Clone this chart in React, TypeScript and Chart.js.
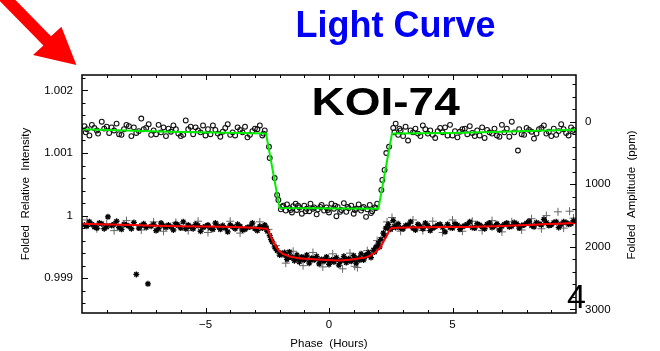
import { useEffect, useRef } from "react";
import { Chart, registerables } from "chart.js";

Chart.register(...registerables);

const FONT = '"Liberation Sans", Arial, Helvetica, sans-serif';

// Axis ticks (minor + labelled)
const phaseTicks = [-9, -8, -7, -6, -5, -4, -3, -2, -1, 0, 1, 2, 3, 4, 5, 6, 7, 8, 9];
const phaseLabels = [-5, 0, 5];
const intensityTicks = [
  0.9986, 0.9988, 0.999, 0.9992, 0.9994, 0.9996, 0.9998, 1, 1.0002, 1.0004,
  1.0006, 1.0008, 1.001, 1.0012, 1.0014, 1.0016, 1.0018, 1.002, 1.0022,
];
const intensityLabels = [0.999, 1, 1.001, 1.002];
const ppmTicks = [
  -600, -400, -200, 0, 200, 400, 600, 800, 1000, 1200, 1400, 1600, 1800, 2000,
  2200, 2400, 2600, 2800, 3000,
];
const ppmLabels = [0, 1000, 2000, 3000];

// Axis ranges; the right axis is the same intensity expressed as ppm below 1.0015
const PHASE_MIN = -10;
const PHASE_MAX = 10;
const INTENSITY_MIN = 0.998444;
const INTENSITY_MAX = 1.002246;
const PPM_ZERO = 1.0015;

// Occultation model (green)
const occultationModelPhase = [-10, -6.5, -2.55, -2.0, 2.0, 2.55, 5, 10];
const occultationModelFlux = [1.00138, 1.00134, 1.00131, 1.00012, 1.00011, 1.00131, 1.00132, 1.00137];

// Transit model (red)
const transitModelPhase = [-10, -5.2, -2.53, -2.27, -2.0, -1.59, -0.78, 0.43, 1.11, 1.65, 2.05, 2.32, 2.53, 4.9, 10];
const transitModelFlux = [
  0.99987, 0.999826, 0.999789, 0.999586, 0.999427, 0.999347, 0.999306, 0.999283,
  0.99931, 0.999358, 0.999481, 0.999666, 0.9998, 0.999816, 0.99988,
];

// Folded observations, upper light curve (open circles): [phase, intensity]
const occultationObs: [number, number][] = [
  [-9.9, 1.00143], [-9.8, 1.00138], [-9.7, 1.00128], [-9.5, 1.0014], [-9.4, 1.00136], [-9.2, 1.0015],
  [-9.1, 1.00139], [-8.9, 1.00132], [-8.8, 1.00141], [-8.6, 1.00147], [-8.5, 1.0013], [-8.3, 1.00138],
  [-8.2, 1.00145], [-8.0, 1.00127], [-7.9, 1.00141], [-7.7, 1.00135], [-7.6, 1.00155], [-7.4, 1.0014],
  [-7.2, 1.00129], [-7.1, 1.00136], [-6.9, 1.00145], [-6.8, 1.00133], [-6.6, 1.00127], [-6.5, 1.00139],
  [-6.3, 1.00144], [-6.1, 1.00131], [-6.0, 1.00127], [-5.8, 1.00152], [-5.7, 1.00138], [-5.5, 1.0013],
  [-5.4, 1.00141], [-5.2, 1.00133], [-5.0, 1.00128], [-4.9, 1.00138], [-4.7, 1.00144], [-4.5, 1.00131],
  [-4.4, 1.00126], [-4.2, 1.0014], [-4.1, 1.00146], [-3.9, 1.00133], [-3.8, 1.00128], [-3.6, 1.00137],
  [-3.4, 1.00142], [-3.3, 1.00125], [-3.1, 1.00135], [-3.0, 1.00139], [-2.8, 1.00144], [-2.7, 1.00128],
  [-2.6, 1.00136],
  [-9.85, 1.00133], [-9.6, 1.00145], [-9.35, 1.00131], [-9.0, 1.00142], [-8.7, 1.00136], [-8.4, 1.00129],
  [-8.1, 1.00143], [-7.8, 1.00132], [-7.5, 1.00138], [-7.3, 1.00146], [-7.0, 1.0013], [-6.7, 1.00141],
  [-6.4, 1.00134], [-6.2, 1.00138], [-5.9, 1.00129], [-5.6, 1.00142], [-5.3, 1.00136], [-5.1, 1.00144],
  [-4.8, 1.0013], [-4.6, 1.00137], [-4.3, 1.00134], [-4.0, 1.00129], [-3.7, 1.00141], [-3.5, 1.00133],
  [-3.2, 1.00129], [-2.9, 1.00138], [-2.65, 1.00131],
  [-2.43, 1.0011], [-2.4, 1.00092], [-2.2, 1.0006], [-2.1, 1.00033], [-2.05, 1.00025],
  [-1.95, 1.0001], [-1.85, 1.00016], [-1.75, 1.00008], [-1.7, 1.00018], [-1.6, 1.00012], [-1.5, 1.00005],
  [-1.45, 1.00015], [-1.35, 1.00019], [-1.3, 1.00009], [-1.2, 1.00013], [-1.1, 1.00003], [-1.0, 1.00016],
  [-0.9, 1.00011], [-0.8, 1.00007], [-0.75, 1.00019], [-0.6, 1.00013], [-0.5, 1.00002], [-0.45, 1.0001],
  [-0.3, 1.00017], [-0.2, 1.00008], [-0.1, 1.00013], [0.0, 1.00005], [0.1, 1.00019], [0.2, 1.00011],
  [0.3, 0.99999], [0.35, 1.00014], [0.5, 1.00009], [0.6, 1.0002], [0.7, 1.00006], [0.8, 1.00012],
  [0.9, 1.00016], [1.0, 1.00003], [1.1, 1.00011], [1.2, 1.00018], [1.3, 1.00008], [1.4, 1.00014],
  [1.5, 0.99998], [1.55, 1.0001], [1.65, 1.00017], [1.75, 1.00007], [1.85, 1.00013], [1.95, 1.00019],
  [-1.9, 1.00014], [-1.55, 1.00009], [-1.25, 1.00016], [-0.95, 1.00007], [-0.65, 1.00011], [-0.35, 1.00014],
  [-0.05, 1.00009], [0.25, 1.00016], [0.45, 1.00006], [0.75, 1.00014], [1.05, 1.00009], [1.35, 1.00012],
  [1.7, 1.00004], [1.9, 1.00012],
  [2.12, 1.00041], [2.16, 1.00057], [2.25, 1.00073], [2.32, 1.001], [2.43, 1.0011],
  [2.6, 1.0014], [2.7, 1.00147], [2.8, 1.00129], [2.9, 1.00136], [3.1, 1.00142], [3.2, 1.0012],
  [3.4, 1.00133], [3.5, 1.00139], [3.7, 1.00127], [3.8, 1.00144], [4.0, 1.00131], [4.1, 1.00136],
  [4.3, 1.00124], [4.5, 1.0014], [4.6, 1.00133], [4.8, 1.00128], [4.9, 1.00145], [5.1, 1.00135],
  [5.2, 1.00125], [5.4, 1.00138], [5.6, 1.0013], [5.7, 1.00143], [5.9, 1.00127], [6.0, 1.00136],
  [6.2, 1.00141], [6.3, 1.00124], [6.5, 1.00133], [6.7, 1.00139], [6.8, 1.00128], [7.0, 1.00145],
  [7.1, 1.00133], [7.3, 1.00126], [7.4, 1.0015], [7.65, 1.00104], [7.7, 1.00138], [7.9, 1.00129],
  [8.0, 1.0014], [8.2, 1.00134], [8.3, 1.00123], [8.5, 1.00138], [8.7, 1.00144], [8.8, 1.00131],
  [9.0, 1.00127], [9.1, 1.00139], [9.3, 1.00135], [9.4, 1.00146], [9.6, 1.00132], [9.7, 1.00128],
  [9.8, 1.00141], [9.9, 1.00137],
  [2.65, 1.00133], [2.85, 1.00139], [3.0, 1.00127], [3.3, 1.00136], [3.6, 1.00131], [3.9, 1.00138],
  [4.2, 1.00129], [4.4, 1.00135], [4.7, 1.00141], [5.0, 1.00128], [5.3, 1.00134], [5.5, 1.00139],
  [5.8, 1.00132], [6.1, 1.00128], [6.4, 1.00137], [6.6, 1.00131], [6.9, 1.00126], [7.2, 1.00139],
  [7.5, 1.00133], [7.8, 1.0013], [8.1, 1.00137], [8.4, 1.00131], [8.6, 1.0014], [8.9, 1.00134],
  [9.2, 1.00129], [9.5, 1.00138], [9.85, 1.00135],
];

// Folded observations, lower light curve (asterisks): [phase, intensity]
const transitObsStars: [number, number][] = [
  [-9.9, 0.99985], [-9.7, 0.9999], [-9.5, 0.99982], [-9.3, 0.99988], [-9.1, 0.99979], [-8.95, 0.99998],
  [-8.8, 0.99984], [-8.6, 0.99991], [-8.4, 0.99978], [-8.3, 0.99986], [-8.1, 0.99983], [-7.9, 0.99989],
  [-7.8, 0.99906], [-7.7, 0.9998], [-7.5, 0.99987], [-7.33, 0.99891], [-7.2, 0.99983], [-7.0, 0.99976],
  [-6.8, 0.99988], [-6.6, 0.99981], [-6.5, 0.99985], [-6.3, 0.99977], [-6.1, 0.99984], [-5.9, 0.9999],
  [-5.8, 0.99979], [-5.6, 0.99982], [-5.4, 0.99986], [-5.2, 0.99975], [-5.0, 0.99983], [-4.8, 0.9998],
  [-4.6, 0.99988], [-4.4, 0.99978], [-4.3, 0.99984], [-4.1, 0.99974], [-3.9, 0.99982], [-3.7, 0.99986],
  [-3.5, 0.99977], [-3.3, 0.99981], [-3.1, 0.99988], [-2.9, 0.99976], [-2.7, 0.9998], [-2.6, 0.99985],
  [-9.8, 0.99983], [-9.6, 0.99986], [-9.4, 0.9998], [-9.2, 0.99987], [-9.0, 0.99982], [-8.7, 0.99986],
  [-8.5, 0.99981], [-8.2, 0.99985], [-8.0, 0.99979], [-7.6, 0.99984], [-7.4, 0.99981], [-7.1, 0.99986],
  [-6.9, 0.99979], [-6.7, 0.99984], [-6.4, 0.99982], [-6.2, 0.99987], [-6.0, 0.9998], [-5.7, 0.99985],
  [-5.5, 0.99979], [-5.3, 0.99984], [-5.1, 0.99981], [-4.9, 0.99985], [-4.7, 0.99978], [-4.5, 0.99983],
  [-4.2, 0.9998], [-4.0, 0.99985], [-3.8, 0.99979], [-3.6, 0.99983], [-3.4, 0.99978], [-3.2, 0.99982],
  [-3.0, 0.99979], [-2.8, 0.99983], [-2.55, 0.9998],
  [-2.5, 0.99975], [-2.4, 0.99968], [-2.35, 0.99962], [-2.3, 0.99958], [-2.2, 0.9995], [-2.15, 0.99947],
  [-2.1, 0.99944], [-2.0, 0.99937],
  [-1.9, 0.99938], [-1.8, 0.99941], [-1.7, 0.9993], [-1.6, 0.99942], [-1.5, 0.99933], [-1.4, 0.99928],
  [-1.3, 0.99937], [-1.2, 0.99926], [-1.1, 0.99934], [-1.0, 0.99929], [-0.9, 0.99937], [-0.8, 0.99924],
  [-0.7, 0.99932], [-0.6, 0.99929], [-0.5, 0.99935], [-0.4, 0.99923], [-0.3, 0.9993], [-0.2, 0.99927],
  [-0.1, 0.99934], [0.0, 0.99922], [0.1, 0.99929], [0.2, 0.99926], [0.3, 0.99933], [0.4, 0.99921],
  [0.5, 0.99928], [0.6, 0.99935], [0.7, 0.99925], [0.8, 0.99931], [0.9, 0.99927], [1.0, 0.99936],
  [1.1, 0.99924], [1.2, 0.99932], [1.3, 0.99939], [1.4, 0.99929], [1.5, 0.99937], [1.6, 0.99941],
  [1.7, 0.99933], [1.8, 0.99945], [1.9, 0.9995], [2.0, 0.99956],
  [-1.95, 0.9994], [-1.75, 0.99936], [-1.55, 0.99934], [-1.35, 0.99932], [-1.15, 0.9993], [-0.95, 0.99932],
  [-0.75, 0.99929], [-0.55, 0.99931], [-0.35, 0.99928], [-0.15, 0.9993], [0.05, 0.99927], [0.25, 0.9993],
  [0.45, 0.99927], [0.65, 0.9993], [0.85, 0.99928], [1.05, 0.99931], [1.25, 0.99929], [1.45, 0.99934],
  [1.65, 0.99936], [1.85, 0.99942],
  [2.05, 0.9995], [2.1, 0.99962], [2.2, 0.99972], [2.25, 0.99968], [2.3, 0.9998], [2.4, 0.99986],
  [2.45, 0.99979],
  [2.5, 0.99978], [2.6, 0.99992], [2.7, 0.99981], [2.8, 0.99987], [3.0, 0.99979], [3.2, 0.99985],
  [3.3, 0.9999], [3.5, 0.99977], [3.7, 0.99983], [3.9, 0.99988], [4.1, 0.99976], [4.3, 0.99982],
  [4.5, 0.99986], [4.7, 0.99974], [4.9, 0.99981], [5.1, 0.99987], [5.3, 0.99978], [5.5, 0.99984],
  [5.7, 0.9999], [5.9, 0.9998], [6.1, 0.99985], [6.3, 0.99979], [6.5, 0.99988], [6.7, 0.99983],
  [6.9, 0.99977], [7.1, 0.99986], [7.3, 0.99982], [7.5, 0.99989], [7.7, 0.9998], [7.9, 0.99985],
  [8.1, 0.99991], [8.3, 0.99982], [8.5, 0.99987], [8.7, 0.99994], [8.9, 0.99984], [9.1, 0.99989],
  [9.3, 0.99981], [9.5, 0.9999], [9.7, 0.99986], [9.9, 0.99992],
  [2.65, 0.99983], [2.9, 0.9998], [3.1, 0.99984], [3.4, 0.9998], [3.6, 0.99986], [3.8, 0.99979],
  [4.0, 0.99984], [4.2, 0.9998], [4.4, 0.99985], [4.6, 0.99981], [4.8, 0.99986], [5.0, 0.9998],
  [5.2, 0.99985], [5.4, 0.99982], [5.6, 0.99986], [5.8, 0.99981], [6.0, 0.99987], [6.2, 0.99982],
  [6.4, 0.99986], [6.6, 0.99981], [6.8, 0.99987], [7.0, 0.99983], [7.2, 0.99988], [7.4, 0.99983],
  [7.6, 0.99987], [7.8, 0.99984], [8.0, 0.99988], [8.2, 0.99984], [8.4, 0.99989], [8.6, 0.99985],
  [8.8, 0.99989], [9.0, 0.99985], [9.2, 0.9999], [9.4, 0.99986], [9.6, 0.99989], [9.8, 0.99987],
];

// Folded observations, lower light curve (crosses): [phase, intensity]
const transitObsCrosses: [number, number][] = [
  [-9.8, 0.99993], [-9.4, 0.99979], [-9.0, 0.99987], [-8.7, 0.99976], [-8.2, 0.99992], [-7.6, 0.99977],
  [-7.1, 0.9999], [-6.7, 0.99975], [-6.2, 0.99989], [-5.7, 0.99976], [-5.3, 0.99991], [-4.9, 0.99973],
  [-4.5, 0.99985], [-4.0, 0.99991], [-3.6, 0.99972], [-3.2, 0.99984], [-2.8, 0.9999], [-2.45, 0.99978],
  [-2.15, 0.99952], [-1.75, 0.99924], [-1.45, 0.99943], [-1.05, 0.9992], [-0.65, 0.99941], [-0.25, 0.99918],
  [0.15, 0.99939], [0.55, 0.99915], [0.85, 0.9994], [1.04, 0.99919], [1.15, 0.99917], [1.55, 0.99944],
  [1.95, 0.9996], [2.35, 0.9999], [2.55, 0.99997], [2.9, 0.99975], [3.4, 0.99993], [3.8, 0.99976],
  [4.2, 0.99991], [4.6, 0.99973], [5.0, 0.99993], [5.4, 0.99975], [5.8, 0.99991], [6.2, 0.99976],
  [6.6, 0.99992], [7.0, 0.99974], [7.4, 0.9999], [7.8, 0.99977], [8.2, 0.99995], [8.6, 0.99979],
  [8.8, 1.0], [9.27, 1.00006], [9.5, 0.9998], [9.74, 1.00007], [9.9, 0.99996],
];

const toPoints = (xs: number[], ys: number[]) => xs.map((x, i) => ({ x, y: ys[i] }));
const pairPoints = (rows: [number, number][]) => rows.map(([x, y]) => ({ x, y }));

const isLabel = (list: number[], v: number) => list.some((l) => Math.abs(l - v) < 1e-9);

// Frame with inward ticks on all four sides, plus titles and annotations
const decorations = {
  id: "decorations",
  afterDatasetsDraw(chart: any) {
    const { ctx, chartArea: a, scales } = chart;
    ctx.save();
    ctx.strokeStyle = "#000";
    ctx.lineWidth = 1;
    ctx.beginPath();
    for (const v of phaseTicks) {
      const x = Math.round(scales.x.getPixelForValue(v)) + 0.5;
      const len = isLabel(phaseLabels, v) ? 5 : 3;
      ctx.moveTo(x, a.bottom);
      ctx.lineTo(x, a.bottom - len);
      ctx.moveTo(x, a.top);
      ctx.lineTo(x, a.top + len);
    }
    for (const v of intensityTicks) {
      const y = Math.round(scales.y.getPixelForValue(v)) + 0.5;
      const len = isLabel(intensityLabels, v) ? 6 : 3.5;
      ctx.moveTo(a.left, y);
      ctx.lineTo(a.left + len, y);
    }
    for (const v of ppmTicks) {
      const y = Math.round(scales.y2.getPixelForValue(v)) + 0.5;
      const len = isLabel(ppmLabels, v) ? 6 : 3.5;
      ctx.moveTo(a.right, y);
      ctx.lineTo(a.right - len, y);
    }
    ctx.stroke();
    ctx.lineWidth = 1.5;
    ctx.strokeRect(a.left, a.top, a.right - a.left, a.bottom - a.top);
    ctx.restore();
  },
  afterDraw(chart: any) {
    const { ctx, chartArea: a } = chart;
    ctx.save();

    // right axis title, reading upwards
    ctx.fillStyle = "#000";
    ctx.font = `11.5px ${FONT}`;
    ctx.textAlign = "center";
    ctx.textBaseline = "middle";
    ctx.translate(a.right + 56, (a.top + a.bottom) / 2 + 1);
    ctx.rotate(-Math.PI / 2);
    ctx.fillText("Folded  Amplitude  (ppm)", 0, 0);
    ctx.setTransform(1, 0, 0, 1, 0, 0);

    // headline
    ctx.fillStyle = "#0000f5";
    ctx.font = `bold 36px ${FONT}`;
    ctx.textAlign = "center";
    ctx.textBaseline = "alphabetic";
    ctx.fillText("Light Curve", 395.5, 36.5);

    // object name, set wide
    ctx.fillStyle = "#000";
    ctx.textAlign = "left";
    ctx.translate(a.left + 229.5, a.top + 40);
    ctx.scale(1.21, 1);
    ctx.font = `bold 38px ${FONT}`;
    ctx.fillText("KOI-74", 0, 0);
    ctx.setTransform(1, 0, 0, 1, 0, 0);

    // slide number
    ctx.font = `34px ${FONT}`;
    ctx.fillText("4", a.right - 9, a.bottom - 5);

    // pointer arrow towards the plot corner
    const tx = a.left - 5.6;
    const ty = a.top - 10;
    ctx.fillStyle = "#ff0000";
    ctx.beginPath();
    ctx.moveTo(tx - 86.7, ty - 74.3);
    ctx.lineTo(tx - 79.1, ty - 83.5);
    ctx.lineTo(tx - 25.4, ty - 28.8);
    ctx.lineTo(tx - 15, ty - 38.3);
    ctx.lineTo(tx, ty);
    ctx.lineTo(tx - 43.4, ty - 10);
    ctx.lineTo(tx - 33, ty - 19.6);
    ctx.closePath();
    ctx.fill();
    ctx.restore();
  },
};

export default function App() {
  const canvasRef = useRef<HTMLCanvasElement | null>(null);

  useEffect(() => {
    const canvas = canvasRef.current;
    if (!canvas) return;
    const tickFont = { family: FONT, size: 11.5 };
    const chart = new Chart(canvas, {
      type: "scatter",
      data: {
        datasets: [
          {
            label: "Occultation model",
            data: toPoints(occultationModelPhase, occultationModelFlux),
            showLine: true,
            borderColor: "#00ee00",
            borderWidth: 2,
            pointRadius: 0,
            tension: 0,
            yAxisID: "y",
            order: 0,
          },
          {
            label: "Transit model",
            data: toPoints(transitModelPhase, transitModelFlux),
            showLine: true,
            borderColor: "#ff0000",
            borderWidth: 2,
            pointRadius: 0,
            cubicInterpolationMode: "monotone",
            yAxisID: "y",
            order: 0,
          },
          {
            label: "Occultation data",
            data: pairPoints(occultationObs),
            pointStyle: "circle",
            pointRadius: 2.4,
            borderWidth: 1.1,
            borderColor: "#111",
            backgroundColor: "rgba(255,255,255,0)",
            yAxisID: "y",
            order: 1,
          },
          {
            label: "Transit data",
            data: pairPoints(transitObsStars),
            pointStyle: "star",
            pointRadius: 3,
            borderWidth: 1.3,
            borderColor: "#000",
            backgroundColor: "#000",
            yAxisID: "y",
            order: 1,
          },
          {
            label: "Transit data (binned)",
            data: pairPoints(transitObsCrosses),
            pointStyle: "cross",
            pointRadius: 4,
            borderWidth: 1,
            borderColor: "#666",
            backgroundColor: "#666",
            yAxisID: "y",
            order: 2,
          },
        ],
      },
      options: {
        animation: false,
        responsive: false,
        events: [],
        layout: { padding: { top: 75, left: 0, right: 0, bottom: 0 } },
        plugins: { legend: { display: false }, tooltip: { enabled: false } },
        scales: {
          x: {
            type: "linear",
            min: PHASE_MIN,
            max: PHASE_MAX,
            grid: { display: false, drawTicks: false },
            border: { display: false },
            afterBuildTicks: (s: any) => {
              s.ticks = phaseTicks.map((value) => ({ value }));
            },
            afterFit: (s: any) => {
              s.height = 38;
            },
            ticks: {
              autoSkip: false,
              maxRotation: 0,
              padding: 5,
              color: "#000",
              font: tickFont,
              callback: (v: any) => (isLabel(phaseLabels, v) ? String(v).replace("-", "\u2212") : ""),
            },
            title: {
              display: true,
              text: "Phase  (Hours)",
              color: "#000",
              font: tickFont,
              padding: { top: 0, bottom: 0 },
            },
          },
          y: {
            type: "linear",
            position: "left",
            min: INTENSITY_MIN,
            max: INTENSITY_MAX,
            grid: { display: false, drawTicks: false },
            border: { display: false },
            afterBuildTicks: (s: any) => {
              s.ticks = intensityTicks.map((value) => ({ value }));
            },
            afterFit: (s: any) => {
              s.width = 82;
            },
            ticks: {
              autoSkip: false,
              padding: 9,
              color: "#000",
              font: tickFont,
              callback: (v: any) => (isLabel(intensityLabels, v) ? String(v) : ""),
            },
            title: {
              display: true,
              text: "Folded  Relative  Intensity",
              color: "#000",
              font: tickFont,
              padding: { top: 19, bottom: 0 },
            },
          },
          y2: {
            type: "linear",
            position: "right",
            reverse: true,
            min: (PPM_ZERO - INTENSITY_MAX) * 1e6,
            max: (PPM_ZERO - INTENSITY_MIN) * 1e6,
            grid: { display: false, drawTicks: false },
            border: { display: false },
            afterBuildTicks: (s: any) => {
              s.ticks = ppmTicks.map((value) => ({ value }));
            },
            afterFit: (s: any) => {
              s.width = 84;
            },
            ticks: {
              autoSkip: false,
              padding: 9,
              color: "#000",
              font: tickFont,
              callback: (v: any) => (isLabel(ppmLabels, v) ? String(v) : ""),
            },
          },
        },
      },
      plugins: [decorations],
    } as any);
    return () => chart.destroy();
  }, []);

  return (
    <div style={{ position: "fixed", left: 0, top: 0, width: 660, height: 351, background: "#fff" }}>
      <canvas ref={canvasRef} width={660} height={351} style={{ display: "block" }} />
    </div>
  );
}
